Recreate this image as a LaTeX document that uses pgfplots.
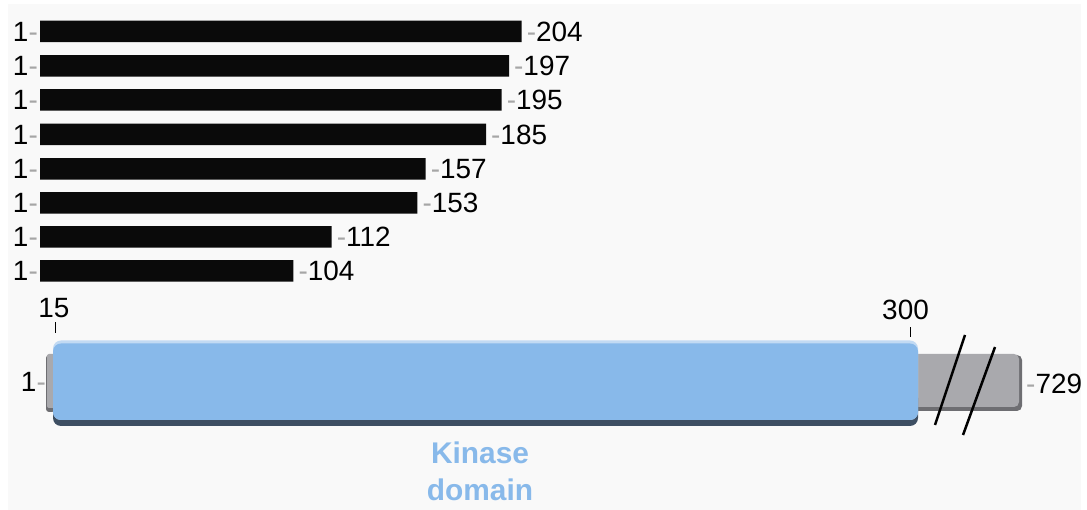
\documentclass[border=0pt]{standalone}
\usepackage{fontspec}
\setmainfont{Liberation Sans}
\usepackage{pgfplots}
\usepackage{pgfplotstable}
\pgfplotsset{compat=1.18}
\definecolor{bgc}{HTML}{F9F9F9}
\definecolor{kin}{HTML}{88B9EA}
\definecolor{kinlight}{HTML}{C2DAF3}
\definecolor{kinshadow}{HTML}{3E4F63}
\definecolor{gbar}{HTML}{A9A9AD}
\definecolor{gshadow}{HTML}{6E6E72}
\newcommand\lf{\fontsize{28}{32}\selectfont}
% y: 510 - pixel row of bar centre; end: pixel column of bar end - 40
\pgfplotstableread{
y     end    lab
478.5 481.7  204
444   469.0  197
410   461.7  195
375.5 446.0  185
341   385.7  157
307   377.3  153
273   291.7  112
239   253.3  104
}\bars
\begin{document}
\begin{tikzpicture}
\begin{axis}[width=1087bp,height=510bp,scale only axis,hide axis,
  xmin=-40,xmax=1047,ymin=0,ymax=510,clip=false]
\fill[white] (rel axis cs:0,0) rectangle (rel axis cs:1,1);
\fill[bgc] (axis cs:-32,0) rectangle (axis cs:1041,506);
% truncation bars
\addplot[xbar, bar width=21.5, fill=black!96, draw=none,
  point meta=explicit symbolic,
  nodes near coords={\textcolor{gray!70}{-}\pgfplotspointmeta},
  nodes near coords style={anchor=west, inner sep=0pt, xshift=5bp, font=\lf, text=black}]
  table[x=end,y=y,meta=lab]{\bars};
\addplot[draw=none,
  nodes near coords={1\textcolor{gray!70}{-}},
  nodes near coords style={anchor=east, inner sep=0pt, xshift=-2bp, font=\lf, text=black}]
  table[x expr=0,y=y]{\bars};
% full length protein
\addplot[fill=gshadow, draw=none, rounded corners=3bp] coordinates {(6,98) (15,98) (15,155) (6,155)} -- cycle;
\addplot[fill=gbar, draw=none, rounded corners=2bp] coordinates {(7,102) (15,102) (15,156) (7,156)} -- cycle;
\addplot[fill=gshadow, draw=none, rounded corners=5bp] coordinates {(870,99) (982,99) (982,155) (870,155)} -- cycle;
\addplot[fill=gbar, draw=none, rounded corners=5bp] coordinates {(870,103) (979,103) (979,156) (870,156)} -- cycle;
\addplot[fill=kinshadow, draw=none, rounded corners=8bp] coordinates {(13,84) (878,84) (878,120) (13,120)} -- cycle;
\addplot[fill=kinlight, draw=none, rounded corners=8bp] coordinates {(13,90) (878,90) (878,169.5) (13,169.5)} -- cycle;
\addplot[fill=kin, draw=none, rounded corners=8bp] coordinates {(13,90) (878,90) (878,166.5) (13,166.5)} -- cycle;
% break marks
\addplot[black, line width=2.5bp] coordinates {(925,175) (895,85)};
\addplot[black, line width=2.5bp] coordinates {(955,163) (923,75)};
% domain boundary ticks
\addplot[black, line width=0.9bp] coordinates {(15,177) (15,188)};
\addplot[black, line width=0.9bp] coordinates {(870.7,173) (870.7,183)};
\node[font=\lf, inner sep=0pt] at (axis cs:14,202) {15};
\node[font=\lf, inner sep=0pt] at (axis cs:865.5,200) {300};
\node[font=\lf, inner sep=0pt, anchor=east] at (axis cs:6,128) {1\textcolor{gray!70}{-}};
\node[font=\lf, inner sep=0pt, anchor=west] at (axis cs:986,126) {\textcolor{gray!70}{-}729};
\node[font=\fontsize{30}{34}\selectfont\bfseries, text=kin, inner sep=0pt] at (axis cs:440,57) {Kinase};
\node[font=\fontsize{30}{34}\selectfont\bfseries, text=kin, inner sep=0pt] at (axis cs:440,20) {domain};
\end{axis}
\end{tikzpicture}
\end{document}
